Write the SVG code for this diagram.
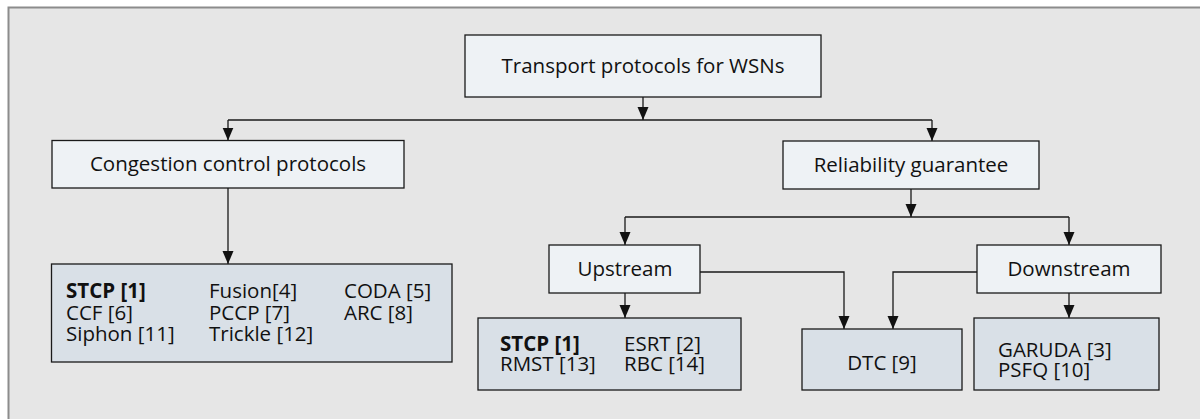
<svg xmlns="http://www.w3.org/2000/svg" width="1200" height="419" viewBox="0 0 1200 419">
<style>
.frame{fill:#e6e6e6}
.fline{stroke:#8c8c8c;stroke-width:2;fill:none}
.box{fill:#eef2f5;stroke:#1a1a1a;stroke-width:1.3}
.res{fill:#d9e0e7;stroke:#1a1a1a;stroke-width:1.3}
.t{font-family:"Open Sans","Noto Sans",sans-serif;font-size:20.5px;fill:#111}
.m{text-anchor:middle}
.b{font-weight:bold}
.c{stroke:#1a1a1a;stroke-width:1.3;fill:none}
.ca{stroke:#1a1a1a;stroke-width:1.3;fill:none;marker-end:url(#ah)}
</style>
<defs>
<marker id="ah" markerUnits="userSpaceOnUse" markerWidth="14" markerHeight="12" viewBox="0 -6 14 12" refX="13" refY="0" orient="auto">
<path d="M0,-5.5 L13,0 L0,5.5 z" fill="#111"/>
</marker>
</defs>
<rect class="frame" x="8" y="7.5" width="1192" height="412"/>
<path class="fline" d="M8.5,419 V7.5 H1200"/>

<g id="connectors">
<path class="ca" d="M643,97 V120"/>
<path class="c" d="M228,120 H932"/>
<path class="ca" d="M228,120 V140.5"/>
<path class="ca" d="M932,120 V141"/>
<path class="ca" d="M228,188 V264"/>
<path class="ca" d="M911,189 V217"/>
<path class="c" d="M625,217 H1069"/>
<path class="ca" d="M625,217 V245"/>
<path class="ca" d="M1069,217 V245"/>
<path class="ca" d="M625,293 V318"/>
<path class="ca" d="M1069,293 V318"/>
<path class="ca" d="M700,272 H844 V329"/>
<path class="ca" d="M977,272 H893 V329"/>
</g>

<g id="root">
<rect class="box" x="465" y="35" width="356" height="62"/>
<text class="t m" x="643" y="73">Transport protocols for WSNs</text>
</g>
<g id="congestion">
<rect class="box" x="52" y="140.5" width="352" height="47.5"/>
<text class="t m" x="228" y="171">Congestion control protocols</text>
</g>
<g id="reliability">
<rect class="box" x="783" y="141" width="256" height="48"/>
<text class="t m" x="911" y="172">Reliability guarantee</text>
</g>
<g id="congestion-list">
<rect class="res" x="51.5" y="264" width="400.5" height="98"/>
<text class="t" x="66" y="298"><tspan class="b">STCP [1]</tspan><tspan x="66" dy="21.5">CCF [6]</tspan><tspan x="66" dy="21.5">Siphon [11]</tspan></text>
<text class="t" x="209" y="298">Fusion[4]<tspan x="209" dy="21.5">PCCP [7]</tspan><tspan x="209" dy="21.5">Trickle [12]</tspan></text>
<text class="t" x="344" y="298">CODA [5]<tspan x="344" dy="21.5">ARC [8]</tspan></text>
</g>
<g id="upstream">
<rect class="box" x="549" y="245" width="151" height="48"/>
<text class="t m" x="625" y="276">Upstream</text>
</g>
<g id="downstream">
<rect class="box" x="977" y="245" width="184" height="48"/>
<text class="t m" x="1069" y="276">Downstream</text>
</g>
<g id="upstream-list">
<rect class="res" x="478" y="318" width="263" height="72"/>
<text class="t" x="500" y="350.5"><tspan class="b">STCP [1]</tspan><tspan x="500" dy="20.5">RMST [13]</tspan></text>
<text class="t" x="624" y="350.5">ESRT [2]<tspan x="624" dy="20.5">RBC [14]</tspan></text>
</g>
<g id="dtc">
<rect class="res" x="802" y="329" width="160" height="61"/>
<text class="t m" x="882" y="370">DTC [9]</text>
</g>
<g id="downstream-list">
<rect class="res" x="974" y="318" width="185" height="72"/>
<text class="t" x="998" y="356.5">GARUDA [3]<tspan x="998" dy="20.5">PSFQ [10]</tspan></text>
</g>
</svg>
